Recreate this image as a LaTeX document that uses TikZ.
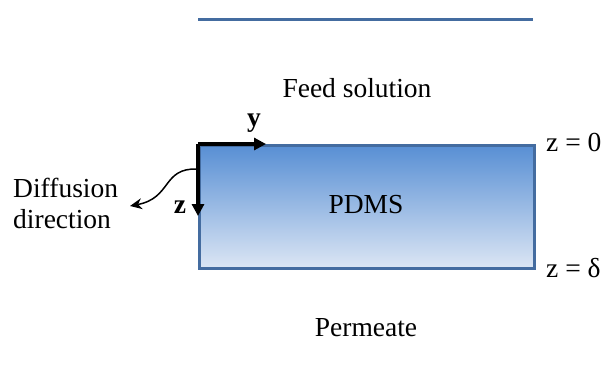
\documentclass[tikz,border=0pt]{standalone}
\usepackage{fontspec}
\setmainfont{Liberation Serif}
\usetikzlibrary{arrows.meta,positioning}
\definecolor{edgeblue}{RGB}{68,108,160}
\definecolor{topblue}{RGB}{88,143,212}
\definecolor{lowblue}{RGB}{220,230,244}

\begin{document}
\begin{tikzpicture}[
      x=1pt, y=-1pt,
      every node/.style={font=\fontsize{27.5}{31}\selectfont, inner sep=0pt},
      txt/.style={anchor=center},
      axis/.style={-{Triangle[length=12pt,width=12pt]}, line width=4pt},
      curvearrow/.style={-{Stealth[length=12pt,width=11pt]}, line width=1.5pt}
  ]
    \useasboundingbox (0,0) rectangle (601,386);
    \draw[edgeblue, line width=3pt] (198,19) -- (533,19);
    \node[draw=edgeblue, line width=3pt, top color=topblue, bottom color=lowblue,
          minimum width=335pt, minimum height=123pt, anchor=north west] (pdms) at (198,144) {};
    \node[txt] at (366,205) {PDMS};
    \node[txt] (feed) at (357,88) {Feed solution};
    \node[txt] (perm) at (366,328) {Permeate};
    \node[anchor=west] (ztop) at (546,142) {z = 0};
    \node[anchor=west] (zbot) at (546,268) {z = δ};
    \coordinate (origin) at (198,144);
    \coordinate (yend) at (266,144);
    \coordinate (zend) at (198,216);
    \draw[axis] (origin) -- (yend);
    \draw[axis] (origin) -- (zend);
    \node[txt, font=\fontsize{27.5}{31}\selectfont\bfseries] (ylab) at (254,123) {y};
    \node[txt, font=\fontsize{27.5}{31}\selectfont\bfseries] (zlab) at (180,207) {z};
    \node[align=left, anchor=west] (diff) at (13,203) {Diffusion\\direction};
    \coordinate (start) at (197,169);
    \coordinate (tip) at (130,206);
    \draw[curvearrow] (start) .. controls (162,168) and (172,198) .. (tip);
\end{tikzpicture}
\end{document}
